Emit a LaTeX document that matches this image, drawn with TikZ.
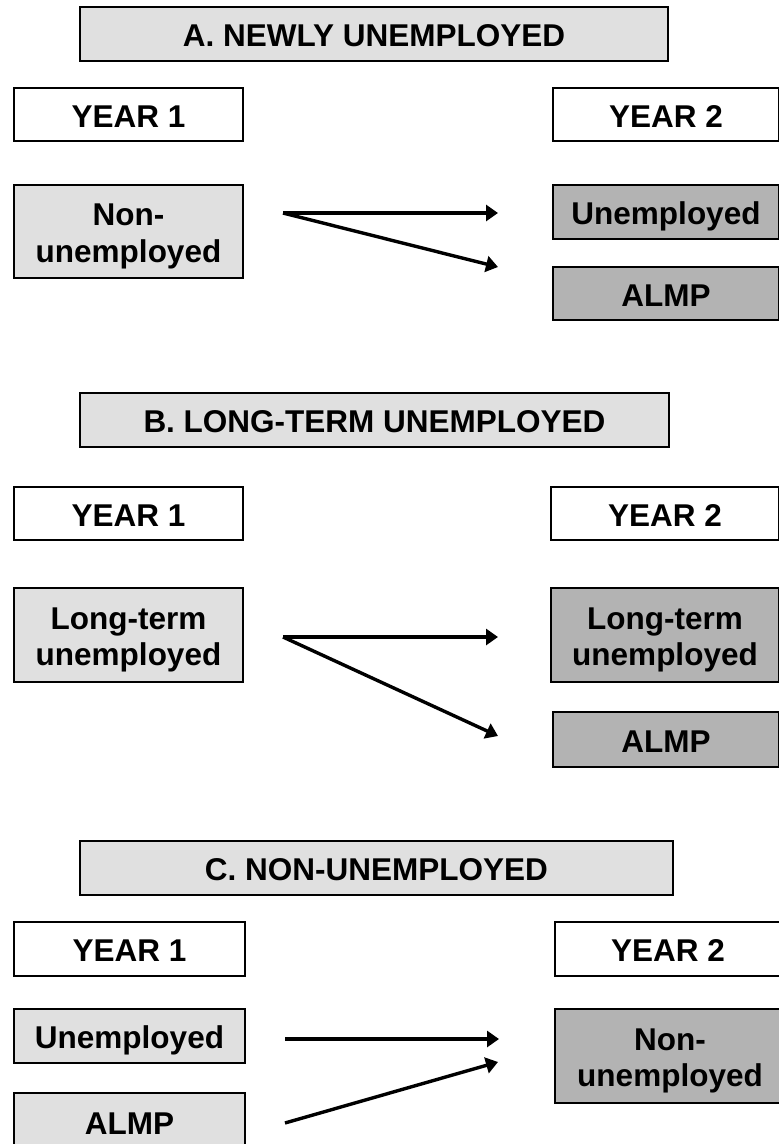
\documentclass[tikz,border=0pt]{standalone}
\usepackage{fontspec}
\setmainfont{Liberation Sans}
\usetikzlibrary{arrows.meta}
\definecolor{lightfill}{HTML}{E0E0E0}
\definecolor{darkfill}{HTML}{B3B3B3}
% struts that give two-line labels the same vertical placement as one-line ones
\newcommand{\topstrut}{\rule{0pt}{31.5pt}}
\newcommand{\botstrut}{\rule[-6.5pt]{0pt}{6.5pt}}
\begin{document}
\begin{tikzpicture}[x=1pt,y=-1pt,
  box/.style={draw=black, line width=2.8pt, align=center, inner sep=0pt,
    font=\fontsize{31.5}{36.7}\selectfont\bfseries},
  oneline/.style={text height=31.5pt, text depth=6.5pt},
  titlebox/.style={box, oneline, fill=lightfill, minimum height=54pt},
  yearbox/.style={box, oneline, fill=white, minimum height=53pt},
  srcbox/.style={box, fill=lightfill},
  dstbox/.style={box, fill=darkfill},
  flow/.style={line width=3.4pt, -{Triangle[length=12pt,width=16pt]}}]
\clip (0,0) rectangle (779,1144);

% ---------- A. Newly unemployed ----------
\node[titlebox, minimum width=588pt] (titleA) at (374,34) {A. NEWLY UNEMPLOYED};
\node[yearbox, minimum width=229pt] (yearA1) at (128.5,114.5) {YEAR 1};
\node[yearbox, minimum width=226pt] (yearA2) at (666,114.5) {YEAR 2};
\node[srcbox, minimum width=229pt, minimum height=93pt] (nonA) at (128.5,231.5) {\topstrut Non-\\unemployed\botstrut};
\node[dstbox, oneline, minimum width=226pt, minimum height=54pt] (unA) at (666,212) {Unemployed};
\node[dstbox, oneline, minimum width=226pt, minimum height=53pt] (almpA) at (666,293.5) {ALMP};
\coordinate (fromA) at (283,213);
\coordinate (toA1) at (498,213);
\coordinate (toA2) at (498,267);
\draw[flow] (fromA) -- (toA1);
\draw[flow] (fromA) -- (toA2);

% ---------- B. Long-term unemployed ----------
\node[titlebox, minimum width=589pt] (titleB) at (374.5,420) {B. LONG-TERM UNEMPLOYED};
\node[yearbox, minimum width=229pt] (yearB1) at (128.5,513.5) {YEAR 1};
\node[yearbox, minimum width=228pt] (yearB2) at (665,513.5) {YEAR 2};
\node[srcbox, minimum width=229pt, minimum height=94pt] (ltB) at (128.5,635) {\topstrut Long-term\\unemployed\botstrut};
\node[dstbox, minimum width=228pt, minimum height=94pt] (ltB2) at (665,635) {\topstrut Long-term\\unemployed\botstrut};
\node[dstbox, oneline, minimum width=226pt, minimum height=55pt] (almpB) at (666,739.5) {ALMP};
\coordinate (fromB) at (283,637);
\coordinate (toB1) at (498,637);
\coordinate (toB2) at (498,736);
\draw[flow] (fromB) -- (toB1);
\draw[flow] (fromB) -- (toB2);

% ---------- C. Non-unemployed ----------
\node[titlebox, minimum width=593pt] (titleC) at (376.5,868) {C. NON-UNEMPLOYED};
\node[yearbox, minimum width=231pt, minimum height=54pt] (yearC1) at (129.5,949) {YEAR 1};
\node[yearbox, minimum width=226pt, minimum height=54pt] (yearC2) at (668,949) {YEAR 2};
\node[srcbox, oneline, minimum width=231pt, minimum height=54pt] (unC) at (129.5,1036) {Unemployed};
\node[srcbox, oneline, minimum width=231pt, minimum height=57pt] (almpC) at (129.5,1121.5) {ALMP};
\node[dstbox, minimum width=230pt, minimum height=94pt] (nonC) at (670,1056) {\topstrut Non-\\unemployed\botstrut};
\coordinate (fromC1) at (285,1039);
\coordinate (fromC2) at (285,1123);
\coordinate (toC1) at (499,1039);
\coordinate (toC2) at (498,1062);
\draw[flow] (fromC1) -- (toC1);
\draw[flow] (fromC2) -- (toC2);
\end{tikzpicture}
\end{document}
